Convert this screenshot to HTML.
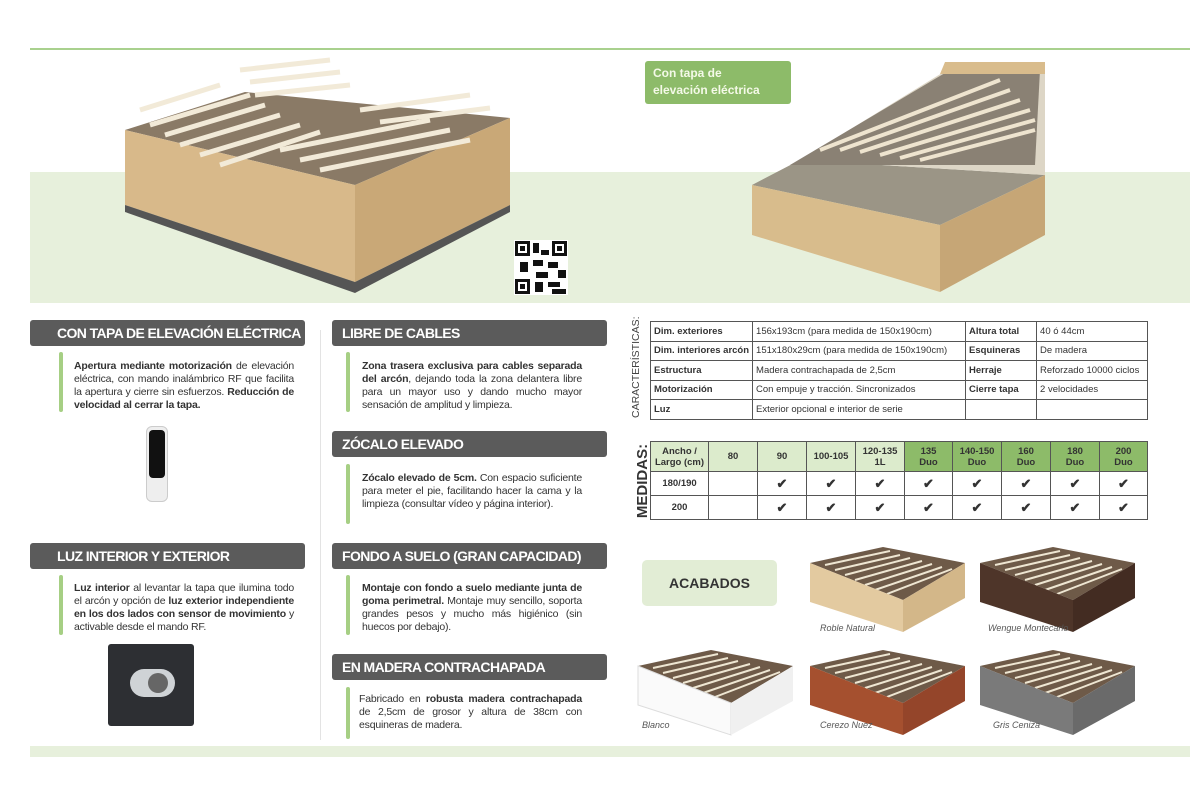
<!DOCTYPE html>
<html><head><meta charset="utf-8"><style>
*{margin:0;padding:0;box-sizing:border-box}
body{width:1200px;height:800px;background:#fff;position:relative;overflow:hidden;font-family:"Liberation Sans",sans-serif;color:#333}
.a{position:absolute}
.hd{position:absolute;height:26px;background:#5b5b5b;border-radius:3px;color:#fff;font-weight:bold;font-size:14px;line-height:26px;letter-spacing:-0.6px}
.bar{position:absolute;width:4px;background:#a6cf84;border-radius:2px}
.tx{position:absolute;font-size:10.5px;line-height:13px;color:#333;text-align:justify;letter-spacing:-0.2px}
table{border-collapse:collapse;position:absolute;font-size:9.5px}
td{border:1px solid #555;padding:0 3px;height:19.5px;white-space:nowrap}
.t2 td{text-align:center;font-weight:bold;padding:0}
.cap{position:absolute;font-size:9px;font-style:italic;color:#555}
</style></head><body>
<div class="a" style="left:30px;top:48px;width:1160px;height:2px;background:#a9d18e"></div>
<div class="a" style="left:30px;top:172px;width:1160px;height:131px;background:#e7f0dc"></div>
<div class="a" style="left:30px;top:746px;width:1160px;height:11px;background:#e7f0dc"></div>

<svg class="a" style="left:0;top:0" width="1200" height="310">
 <!-- left bed -->
 <polygon points="125,130 245,92 510,118 355,185" fill="#8a7a66"/>
 <polygon points="125,130 355,185 355,282 125,205" fill="#d8b98a"/>
 <polygon points="355,185 510,118 510,205 355,282" fill="#c9a877"/>
 <polygon points="125,205 355,282 510,205 510,212 355,293 125,212" fill="#555"/>
 <g stroke="#f2ead8" stroke-width="5">
  <line x1="150" y1="125" x2="250" y2="95"/><line x1="165" y1="135" x2="265" y2="105"/><line x1="180" y1="145" x2="280" y2="115"/>
  <line x1="200" y1="155" x2="300" y2="125"/><line x1="220" y1="165" x2="320" y2="132"/><line x1="240" y1="70" x2="330" y2="60"/>
  <line x1="250" y1="82" x2="340" y2="72"/><line x1="280" y1="150" x2="430" y2="120"/><line x1="300" y1="160" x2="450" y2="130"/>
  <line x1="320" y1="170" x2="470" y2="140"/><line x1="360" y1="110" x2="470" y2="95"/><line x1="380" y1="122" x2="490" y2="108"/>
  <line x1="140" y1="110" x2="220" y2="85"/><line x1="255" y1="95" x2="350" y2="85"/>
 </g>
 <!-- right bed -->
 <polygon points="752,185 800,160 1045,175 940,225" fill="#9b9586"/>
 <polygon points="752,185 940,225 940,292 752,235" fill="#d8bc8c"/>
 <polygon points="940,225 1045,175 1045,235 940,292" fill="#c6a676"/>
 <polygon points="800,160 955,65 1045,65 1045,175" fill="#ddd6c6"/>
 <polygon points="790,165 950,70 1040,70 1035,165" fill="#8a8174"/>
 <g stroke="#eee4cf" stroke-width="4">
  <line x1="820" y1="150" x2="1000" y2="80"/><line x1="840" y1="150" x2="1010" y2="90"/><line x1="860" y1="152" x2="1020" y2="100"/>
  <line x1="880" y1="155" x2="1030" y2="110"/><line x1="900" y1="158" x2="1035" y2="120"/><line x1="920" y1="160" x2="1035" y2="130"/>
 </g>
 <polygon points="945,62 1045,62 1045,74 940,74" fill="#d9bc8c"/>
 <!-- QR -->
 <rect x="514" y="240" width="54" height="55" fill="#fff"/>
 <g fill="#111">
  <rect x="515" y="241" width="15" height="15"/><rect x="552" y="241" width="15" height="15"/><rect x="515" y="279" width="15" height="15"/>
  <rect x="533" y="243" width="6" height="10"/><rect x="541" y="250" width="8" height="5"/><rect x="533" y="260" width="10" height="6"/>
  <rect x="520" y="262" width="8" height="10"/><rect x="548" y="262" width="10" height="6"/><rect x="558" y="270" width="8" height="8"/>
  <rect x="536" y="272" width="12" height="6"/><rect x="535" y="282" width="8" height="10"/><rect x="548" y="282" width="12" height="5"/><rect x="552" y="289" width="14" height="5"/>
 </g>
 <g fill="#fff"><rect x="518" y="244" width="9" height="9"/><rect x="555" y="244" width="9" height="9"/><rect x="518" y="282" width="9" height="9"/></g>
 <g fill="#111"><rect x="520" y="246" width="5" height="5"/><rect x="557" y="246" width="5" height="5"/><rect x="520" y="284" width="5" height="5"/></g>
</svg>
<div class="a" style="left:645px;top:61px;width:146px;height:43px;background:#8dbb69;border-radius:3px;color:#f4f9e8;font-weight:bold;font-size:12px;line-height:17px;padding:4px 8px">Con tapa de<br>elevación eléctrica</div>

<div class="a" style="left:320px;top:330px;width:1px;height:410px;background:#e3e3e3"></div>

<div class="hd" style="left:30px;top:320px;width:275px;padding-left:27px">CON TAPA DE ELEVACIÓN ELÉCTRICA</div>
<div class="bar" style="left:59px;top:352px;height:60px"></div>
<div class="tx" style="left:74px;top:360px;width:220px"><b>Apertura mediante motorización</b> de elevación eléctrica, con mando inalámbrico RF que facilita la apertura y cierre sin esfuerzos. <b>Reducción de velocidad al cerrar la tapa.</b></div>
<div class="a" style="left:146px;top:426px;width:22px;height:76px;background:#eee;border:1px solid #ccc;border-radius:6px"><div style="margin:3px 2px;height:48px;background:#111;border-radius:4px"></div></div>

<div class="hd" style="left:30px;top:543px;width:275px;padding-left:27px">LUZ INTERIOR Y EXTERIOR</div>
<div class="bar" style="left:59px;top:575px;height:60px"></div>
<div class="tx" style="left:74px;top:582px;width:220px"><b>Luz interior</b> al levantar la tapa que ilumina todo el arcón y opción de <b>luz exterior independiente en los dos lados con sensor de movimiento</b> y activable desde el mando RF.</div>
<div class="a" style="left:108px;top:644px;width:86px;height:82px;background:#2d2f33;border-radius:3px"><div style="position:absolute;left:22px;top:25px;width:45px;height:28px;border-radius:14px;background:#cfd3d6"></div><div style="position:absolute;left:40px;top:29px;width:20px;height:20px;border-radius:10px;background:#666"></div></div>

<div class="hd" style="left:332px;top:320px;width:275px;padding-left:10px">LIBRE DE CABLES</div>
<div class="bar" style="left:346px;top:352px;height:60px"></div>
<div class="tx" style="left:362px;top:360px;width:220px"><b>Zona trasera exclusiva para cables separada del arcón</b>, dejando toda la zona delantera libre para un mayor uso y dando mucho mayor sensación de amplitud y limpieza.</div>

<div class="hd" style="left:332px;top:431px;width:275px;padding-left:10px">ZÓCALO ELEVADO</div>
<div class="bar" style="left:346px;top:464px;height:60px"></div>
<div class="tx" style="left:362px;top:472px;width:220px"><b>Zócalo elevado de 5cm.</b> Con espacio suficiente para meter el pie, facilitando hacer la cama y la limpieza (consultar vídeo y página interior).</div>

<div class="hd" style="left:332px;top:543px;width:275px;padding-left:10px">FONDO A SUELO (GRAN CAPACIDAD)</div>
<div class="bar" style="left:346px;top:575px;height:60px"></div>
<div class="tx" style="left:362px;top:582px;width:220px"><b>Montaje con fondo a suelo mediante junta de goma perimetral.</b> Montaje muy sencillo, soporta grandes pesos y mucho más higiénico (sin huecos por debajo).</div>

<div class="hd" style="left:332px;top:654px;width:275px;padding-left:10px">EN MADERA CONTRACHAPADA</div>
<div class="bar" style="left:346px;top:687px;height:52px"></div>
<div class="tx" style="left:359px;top:693px;width:223px">Fabricado en <b>robusta madera contrachapada</b> de 2,5cm de grosor y altura de 38cm con esquineras de madera.</div>

<div class="a" style="left:628px;top:418px;width:100px;height:16px;transform:rotate(-90deg);transform-origin:0 0;font-size:10.5px;color:#444;text-align:center;line-height:16px">CARACTERÍSTICAS:</div>
<table style="left:650px;top:321px;width:498px">
<tr><td style="width:99px"><b>Dim. exteriores</b></td><td style="width:213px">156x193cm (para medida de 150x190cm)</td><td style="width:71px"><b>Altura total</b></td><td>40 ó 44cm</td></tr>
<tr><td><b>Dim. interiores arcón</b></td><td>151x180x29cm (para medida de 150x190cm)</td><td><b>Esquineras</b></td><td>De madera</td></tr>
<tr><td><b>Estructura</b></td><td>Madera contrachapada de 2,5cm</td><td><b>Herraje</b></td><td>Reforzado 10000 ciclos</td></tr>
<tr><td><b>Motorización</b></td><td>Con empuje y tracción. Sincronizados</td><td><b>Cierre tapa</b></td><td>2 velocidades</td></tr>
<tr><td><b>Luz</b></td><td>Exterior opcional e interior de serie</td><td></td><td></td></tr>
</table>

<div class="a" style="left:634px;top:520px;width:78px;height:18px;transform:rotate(-90deg);transform-origin:0 0;font-size:15px;color:#333;text-align:center;line-height:18px;font-weight:bold">MEDIDAS:</div>
<table class="t2" style="left:650px;top:441px;width:498px">
<tr style="height:30px;line-height:11px"><td style="width:58px;background:#dcebcc">Ancho /<br>Largo (cm)</td><td style="width:49px;background:#dcebcc">80</td><td style="width:49px;background:#dcebcc">90</td><td style="width:49px;background:#dcebcc">100-105</td><td style="width:49px;background:#dcebcc">120-135<br>1L</td><td style="width:48px;background:#8dbb69">135<br>Duo</td><td style="width:49px;background:#8dbb69">140-150<br>Duo</td><td style="width:49px;background:#8dbb69">160<br>Duo</td><td style="width:49px;background:#8dbb69">180<br>Duo</td><td style="background:#8dbb69">200<br>Duo</td></tr>
<tr style="height:24px;font-size:13px"><td style="font-size:9.5px">180/190</td><td></td><td>✔</td><td>✔</td><td>✔</td><td>✔</td><td>✔</td><td>✔</td><td>✔</td><td>✔</td></tr>
<tr style="height:24px;font-size:13px"><td style="font-size:9.5px">200</td><td></td><td>✔</td><td>✔</td><td>✔</td><td>✔</td><td>✔</td><td>✔</td><td>✔</td><td>✔</td></tr>
</table>

<div class="a" style="left:642px;top:560px;width:135px;height:46px;background:#e2edd5;border-radius:5px;font-weight:bold;font-size:14px;line-height:46px;text-align:center;color:#333">ACABADOS</div>

<svg class="a" style="left:0;top:0" width="1200" height="800">
 <defs>
  <g id="bedtop">
   <polygon points="0,16 73,0 155,16 93,53" fill="#6e5a48"/>
   <g stroke="#eee6d2" stroke-width="2">
    <line x1="15" y1="18" x2="80" y2="4"/><line x1="25" y1="23" x2="90" y2="8"/><line x1="35" y1="28" x2="100" y2="11"/><line x1="45" y1="33" x2="112" y2="14"/>
    <line x1="55" y1="38" x2="122" y2="17"/><line x1="65" y1="43" x2="132" y2="20"/><line x1="77" y1="47" x2="142" y2="22"/>
   </g>
  </g>
 </defs>
 <g transform="translate(810,547)"><use href="#bedtop"/><polygon points="0,16 93,53 93,85 0,55" fill="#e3caa0"/><polygon points="93,53 155,16 155,51 93,85" fill="#d3b789"/></g>
 <g transform="translate(980,547)"><use href="#bedtop"/><polygon points="0,16 93,53 93,85 0,55" fill="#4e3529"/><polygon points="93,53 155,16 155,51 93,85" fill="#432c22"/></g>
 <g transform="translate(638,650)"><use href="#bedtop"/><polygon points="0,16 93,53 93,85 0,55" fill="#fafafa" stroke="#ddd"/><polygon points="93,53 155,16 155,51 93,85" fill="#f0f0f0"/></g>
 <g transform="translate(810,650)"><use href="#bedtop"/><polygon points="0,16 93,53 93,85 0,55" fill="#a5502f"/><polygon points="93,53 155,16 155,51 93,85" fill="#94452a"/></g>
 <g transform="translate(980,650)"><use href="#bedtop"/><polygon points="0,16 93,53 93,85 0,55" fill="#7a7a7a"/><polygon points="93,53 155,16 155,51 93,85" fill="#6a6a6a"/></g>
</svg>
<div class="cap" style="left:820px;top:623px">Roble Natural</div>
<div class="cap" style="left:988px;top:623px">Wengue Montecarlo</div>
<div class="cap" style="left:642px;top:720px">Blanco</div>
<div class="cap" style="left:820px;top:720px">Cerezo Nuez</div>
<div class="cap" style="left:993px;top:720px">Gris Ceniza</div>
</body></html>
